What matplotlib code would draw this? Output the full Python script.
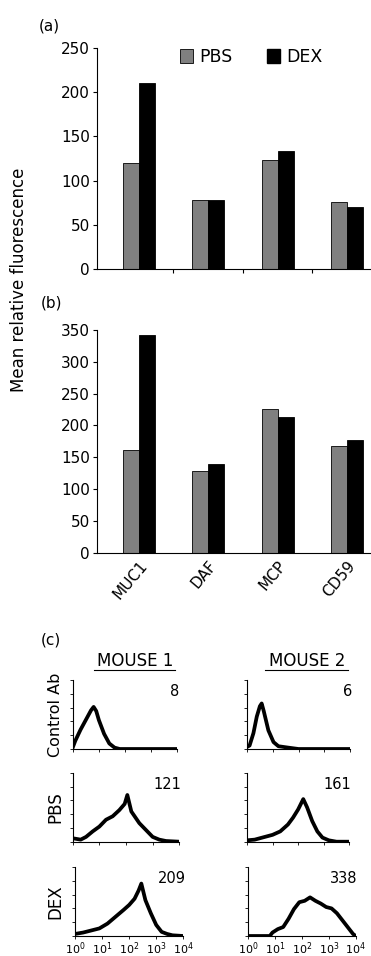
import numpy as np
import matplotlib
matplotlib.use('Agg')
import matplotlib.pyplot as plt
from matplotlib.patches import Patch
from matplotlib.lines import Line2D
from matplotlib.ticker import NullLocator, NullFormatter

W, H = 371, 956

# bar chart data
genes = ['MUC1', 'DAF', 'MCP', 'CD59']
pbs_a = [120, 78, 123, 76]
dex_a = [210, 78, 133, 70]
pbs_b = [162, 129, 226, 168]
dex_b = [342, 140, 214, 177]

# flow histograms: log10 intensity and relative count (0-1 of axis height)
ctrl1_x = [0.0, 0.1, 0.3, 0.5, 0.7, 0.8, 0.9, 1.0, 1.2, 1.4, 1.6, 1.8, 2.5, 4.0]
ctrl1_y = [0.02, 0.12, 0.28, 0.42, 0.56, 0.61, 0.55, 0.42, 0.22, 0.08, 0.02, 0.0, 0.0, 0.0]
ctrl2_x = [0.0, 0.1, 0.25, 0.38, 0.5, 0.57, 0.65, 0.83, 1.03, 1.22, 1.6, 2.0, 4.0]
ctrl2_y = [0.03, 0.05, 0.23, 0.47, 0.62, 0.66, 0.55, 0.27, 0.1, 0.04, 0.02, 0.0, 0.0]
pbs1_x = [0.0, 0.3, 0.5, 0.75, 1.0, 1.25, 1.5, 1.75, 1.95, 2.05, 2.2, 2.5, 2.75, 3.0, 3.25, 3.5, 4.0]
pbs1_y = [0.05, 0.03, 0.07, 0.15, 0.22, 0.32, 0.37, 0.46, 0.55, 0.68, 0.44, 0.27, 0.17, 0.07, 0.03, 0.01, 0.0]
pbs2_x = [0.0, 0.3, 0.6, 1.0, 1.3, 1.6, 1.8, 2.0, 2.2, 2.35, 2.55, 2.75, 2.95, 3.2, 3.5, 4.0]
pbs2_y = [0.02, 0.03, 0.06, 0.1, 0.15, 0.25, 0.35, 0.47, 0.62, 0.5, 0.3, 0.15, 0.06, 0.02, 0.0, 0.0]
dex1_x = [0.0, 0.3, 0.6, 0.9, 1.2, 1.5, 1.8, 2.0, 2.2, 2.35, 2.45, 2.6, 2.8, 3.0, 3.2, 3.4, 3.6, 4.0]
dex1_y = [0.03, 0.05, 0.08, 0.11, 0.18, 0.28, 0.38, 0.45, 0.54, 0.66, 0.76, 0.52, 0.33, 0.16, 0.06, 0.03, 0.01, 0.0]
dex2_x = [0.0, 0.8, 0.9, 1.1, 1.3, 1.5, 1.7, 1.9, 2.1, 2.3, 2.5, 2.7, 2.9, 3.1, 3.3, 3.5, 3.7, 3.9, 4.0]
dex2_y = [0.0, 0.0, 0.05, 0.1, 0.13, 0.25, 0.39, 0.49, 0.51, 0.56, 0.51, 0.47, 0.42, 0.4, 0.33, 0.23, 0.13, 0.03, 0.0]
mfi = [[8, 6], [121, 161], [209, 338]]
row_labels = ['Control Ab', 'PBS', 'DEX']
col_labels = ['MOUSE 1', 'MOUSE 2']

fig = plt.figure(figsize=(W / 100, H / 100), dpi=100)


def box(left, right, top, bottom):
    return [left / W, 1 - bottom / H, (right - left) / W, (bottom - top) / H]


def bar_panel(rect, pbs, dex, ymax, ticks_between):
    ax = fig.add_axes(rect)
    x = np.arange(len(genes))
    w = 0.23
    ax.bar(x - w / 2, pbs, w, color='#808080', edgecolor='black', linewidth=0.6)
    ax.bar(x + w / 2, dex, w, color='black', edgecolor='black', linewidth=0.6)
    ax.set_xlim(-0.6, 3.4)
    ax.set_ylim(0, ymax)
    ax.set_yticks(np.arange(0, ymax + 1, 50))
    ax.spines['top'].set_visible(False)
    ax.spines['right'].set_visible(False)
    ax.spines['left'].set_linewidth(0.8)
    ax.spines['bottom'].set_linewidth(0.8)
    ax.tick_params(axis='y', labelsize=11, length=3, width=0.8, pad=2)
    if ticks_between:
        ax.set_xticks([0.5, 1.5, 2.5])
        ax.set_xticklabels([])
        ax.tick_params(axis='x', length=3, width=0.8)
    return ax


ax_a = bar_panel(box(97, 375, 48, 269), pbs_a, dex_a, 250, True)
ax_a.legend(handles=[Patch(facecolor='#808080', edgecolor='black', linewidth=0.6, label='PBS'),
                     Patch(facecolor='black', edgecolor='black', label='DEX')],
            loc='center left', bbox_to_anchor=((180 - 97) / 278, (269 - 57) / 221),
            ncol=2, frameon=False, fontsize=12.5, handlelength=0.75, handleheight=0.8,
            handletextpad=0.35, columnspacing=2.0, borderpad=0, borderaxespad=0)

ax_b = bar_panel(box(97, 375, 330, 552.7), pbs_b, dex_b, 350, False)
ax_b.set_xticks(np.arange(len(genes)))
ax_b.set_xticklabels(genes, rotation=50, ha='right', rotation_mode='anchor', fontsize=11)
ax_b.tick_params(axis='x', length=0, pad=4)

fig.text(19.5 / W, 1 - 280 / H, 'Mean relative fluorescence', rotation=90,
         ha='center', va='center', fontsize=12)
fig.text(49 / W, 1 - 26 / H, '(a)', ha='center', va='center', fontsize=11)
fig.text(51 / W, 1 - 303 / H, '(b)', ha='center', va='center', fontsize=11)
fig.text(51 / W, 1 - 640 / H, '(c)', ha='center', va='center', fontsize=11)

# histogram panels
curves = [[(ctrl1_x, ctrl1_y), (ctrl2_x, ctrl2_y)],
          [(pbs1_x, pbs1_y), (pbs2_x, pbs2_y)],
          [(dex1_x, dex1_y), (dex2_x, dex2_y)]]
rows = [(680, 749), (773, 841.7), (867, 936)]
cols = [[(72.7, 177.3), (247, 350)],
        [(72.7, 179.3), (247, 349.3)],
        [(75, 183.3), (248.3, 355.7)]]

for i in range(3):
    top, bottom = rows[i]
    for j in range(2):
        left, right = cols[i][j]
        ax = fig.add_axes(box(left, right, top, bottom))
        lx, ly = curves[i][j]
        ax.plot(10 ** np.array(lx), ly, color='black', linewidth=2.7)
        ax.set_xscale('log')
        ax.set_xlim(1, 1e4)
        ax.set_ylim(0, 1)
        ax.set_xticks([1, 10, 100, 1000, 10000])
        ax.xaxis.set_minor_locator(NullLocator())
        ax.set_yticks(np.linspace(0, 1, 6))
        ax.set_yticklabels([])
        ax.spines['top'].set_visible(False)
        ax.spines['right'].set_visible(False)
        ax.spines['left'].set_linewidth(0.8)
        ax.spines['bottom'].set_linewidth(0.8)
        ax.tick_params(axis='both', length=2, width=0.6, labelsize=8, pad=1)
        if i < 2:
            ax.xaxis.set_major_formatter(NullFormatter())
        ax.text(1.02, 0.83, str(mfi[i][j]), transform=ax.transAxes,
                ha='right', va='center', fontsize=10.5)
    fig.text(55 / W, 1 - (top + bottom) / 2 / H, row_labels[i], rotation=90,
             ha='center', va='center', fontsize=12 if i else 11.5)

for cx, x0, x1, lab in [(134.7, 94, 175, col_labels[0]), (306.7, 265, 348, col_labels[1])]:
    fig.text(cx / W, 1 - 661 / H, lab, ha='center', va='center', fontsize=12)
    fig.add_artist(Line2D([x0 / W, x1 / W], [1 - 669.5 / H, 1 - 669.5 / H],
                          color='black', linewidth=0.8))

fig.savefig('out.png', dpi=100)
